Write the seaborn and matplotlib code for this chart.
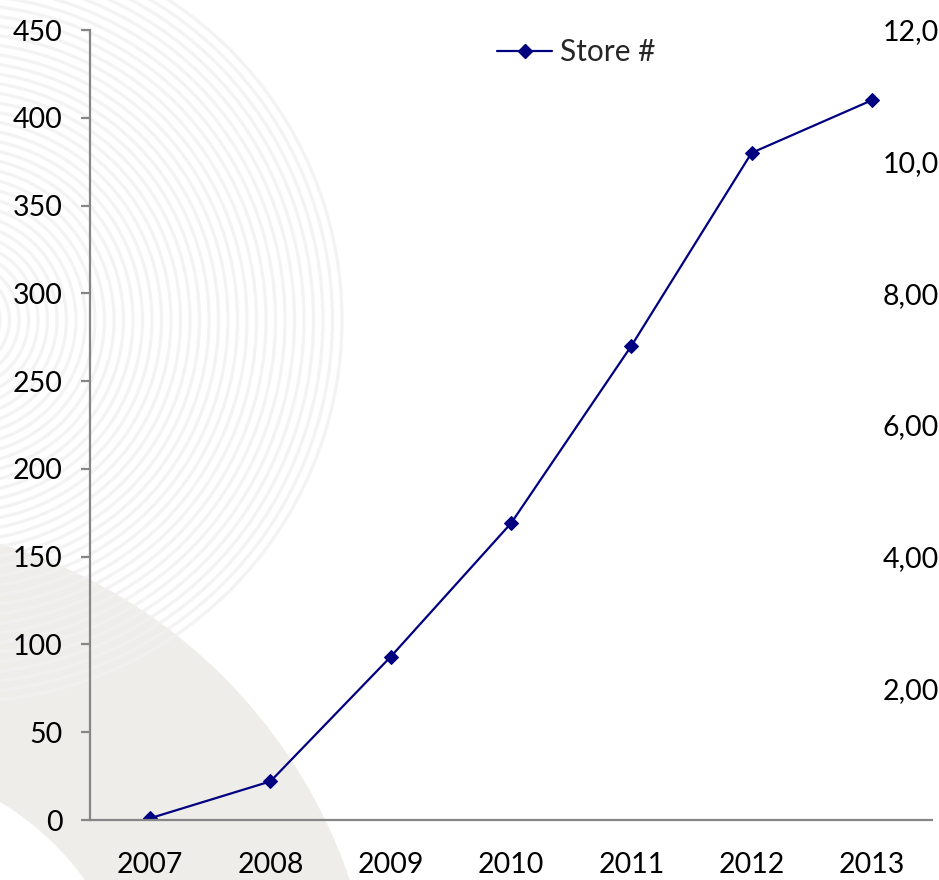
import numpy as np
import pandas as pd
import matplotlib
matplotlib.use("Agg")
import matplotlib.pyplot as plt
import seaborn as sns
from matplotlib.patches import Circle, Wedge
from matplotlib.lines import Line2D

# ---- data ----
years = ["2007", "2008", "2009", "2010", "2011", "2012", "2013"]
stores = [1, 22, 93, 169, 270, 380, 410]
left_ticks = [0, 50, 100, 150, 200, 250, 300, 350, 400, 450]
right_ticks = [2000, 4000, 6000, 8000, 10000, 12000]
right_labels = ["2,000", "4,000", "6,000", "8,000", "10,000", "12,000"]
series_name = "Store #"

sns.set_theme(style="white")
plt.rcParams["font.family"] = ["Lato", "DejaVu Sans"]

W, H = 939, 880
fig = plt.figure(figsize=(W / 100, H / 100), dpi=100)
fig.patch.set_facecolor("white")

# ---- decorative background ----
bg = fig.add_axes([0, 0, 1, 1], zorder=-5)
bg.set_xlim(0, W)
bg.set_ylim(H, 0)
bg.axis("off")
bg.add_patch(Wedge((-150, 1050), 528, 0, 360, width=238,
                   facecolor="#EFEDE9", edgecolor="none"))
for r in np.arange(40, 390, 9.5):
    bg.add_patch(Circle((-40, 320), r, facecolor="none", edgecolor="#F1F1F1",
                        lw=2.4, alpha=0.8))

# ---- main axes ----
ax = fig.add_axes([90 / W, (H - 820) / H, (932 - 90) / W, 790 / H])
ax.set_facecolor("none")
df = pd.DataFrame({"year": years, "stores": stores})
sns.lineplot(data=df, x="year", y="stores", ax=ax, color="#000080",
             lw=1.6, marker="D", markersize=7.5, markeredgecolor="#000080",
             sort=False, legend=False)
ax.set_xlim(-0.5, len(years) - 0.5)
ax.set_ylim(0, 450)
ax.set_yticks(left_ticks)
ax.set_xlabel("")
ax.set_ylabel("")

axis_col = "#868686"
for s in ["top", "right"]:
    ax.spines[s].set_visible(False)
for s in ["left", "bottom"]:
    ax.spines[s].set_color(axis_col)
    ax.spines[s].set_linewidth(1.6)

ax.tick_params(axis="y", which="major", direction="out", length=6.5,
               width=1.6, color=axis_col, labelsize=20.5, pad=13, labelcolor="black")
ax.tick_params(axis="x", which="major", length=0, labelsize=20.5, pad=23,
               labelcolor="black")
ax.set_xticks(np.arange(-0.5, len(years), 1.0), minor=True)
ax.tick_params(axis="x", which="minor", direction="out", length=6,
               width=1.6, color=axis_col)

# ---- secondary axis (labels only) ----
ax2 = ax.twinx()
ax2.set_ylim(0, 12000 * 790 / 796)
ax2.set_yticks(right_ticks)
ax2.set_yticklabels(right_labels)
ax2.tick_params(axis="y", length=0, labelsize=20.5, pad=-35.5, labelcolor="black")
for s in ax2.spines.values():
    s.set_visible(False)
ax2.grid(False)
ax.grid(False)

# ---- legend ----
handle = Line2D([], [], color="#000080", lw=1.6, marker="D", markersize=7.5)
fig.legend([handle], [series_name], loc="center left",
           bbox_to_anchor=(497 / W, 1 - 52 / H), frameon=False, fontsize=21.5,
           handlelength=1.85, handletextpad=0.25, borderpad=0, borderaxespad=0)

fig.savefig("out.png", dpi=100, facecolor="white")
